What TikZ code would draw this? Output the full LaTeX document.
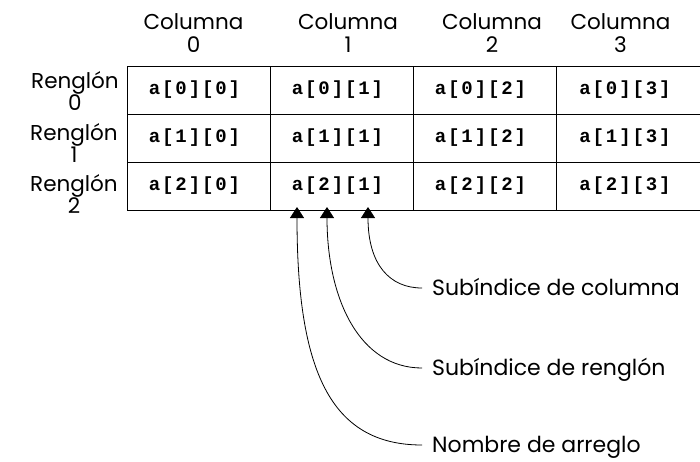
\documentclass[tikz,border=0pt]{standalone}
\usepackage{fontspec}
\setsansfont{Poppins}
\setmonofont{Liberation Mono}
\usetikzlibrary{arrows.meta}

% fonts: geometric sans for labels, bold typewriter for the array elements
\newcommand{\labfont}{\sffamily\fontsize{21.5}{20}\selectfont}
\newcommand{\headfont}{\sffamily\fontsize{21.5}{23}\selectfont}
\newcommand{\notefont}{\sffamily\fontsize{22}{24}\selectfont}
\newcommand{\elemfont}{\ttfamily\bfseries\fontsize{19}{20}\selectfont}
% one monospaced character in a fixed-width slot (wide tracking)
\newcommand{\slotch}[1]{\makebox[13.3pt]{#1}}
\newcommand{\cellref}[2]{\slotch{a}\slotch{[}\slotch{#1}\slotch{]}\slotch{[}\slotch{#2}\slotch{]}\kern8pt}

\tikzset{
  cell/.style={draw, line width=0.9pt, minimum width=143pt, minimum height=48pt,
               inner sep=0pt, font=\elemfont},
  lastcell/.style={cell, minimum width=146pt},
  colhead/.style={font=\headfont, align=center, inner sep=0pt},
  rowhead/.style={font=\labfont, align=center, inner sep=0pt},
  note/.style={font=\notefont, anchor=west, inner xsep=10pt, inner ysep=0pt,
               text height=15pt, text depth=0pt},
  pointer/.style={line width=0.8pt, -{Triangle[width=14pt,length=11pt]}}
}

\begin{document}
\begin{tikzpicture}[x=1pt, y=-1pt]
  \useasboundingbox (0,0) rectangle (700,461);

  % the 3 x 4 array
  \foreach \r in {0,1,2} {
    \foreach \c in {0,1,2} {
      \node[cell] (c\r\c) at ({198.5+143*\c}, {90+48*\r}) {\cellref{\r}{\c}};
    }
    \node[lastcell] (c\r3) at (629, {90+48*\r}) {\cellref{\r}{3}};
  }

  % column headings
  \node[colhead] (h0) at (193.5, 33) {Columna\\0};
  \node[colhead] (h1) at (348, 33) {Columna\\1};
  \node[colhead] (h2) at (492, 33) {Columna\\2};
  \node[colhead] (h3) at (620.5, 33) {Columna\\3};

  % row headings
  \node[rowhead] (r0) at (75, 91) {Renglón\\0};
  \node[rowhead] (r1) at (74, 143) {Renglón\\1};
  \node[rowhead] (r2) at (74, 194) {Renglón\\2};

  % callouts below a[2][1]
  \coordinate (tname) at (297, 207);
  \coordinate (trow)  at (327, 207);
  \coordinate (tcol)  at (368, 207);

  \node[note] (lcol) at (422, 288) {Subíndice de columna};
  \node[note] (lrow) at (422, 368) {Subíndice de renglón};
  \node[note] (lname) at (422, 445) {Nombre de arreglo};

  \draw[pointer] (lcol.west) .. controls (390,288) and (368,265) .. (tcol);
  \draw[pointer] (lrow.west) .. controls (360,368) and (327,300) .. (trow);
  \draw[pointer] (lname.west) .. controls (330,445) and (297,370) .. (tname);
\end{tikzpicture}
\end{document}
